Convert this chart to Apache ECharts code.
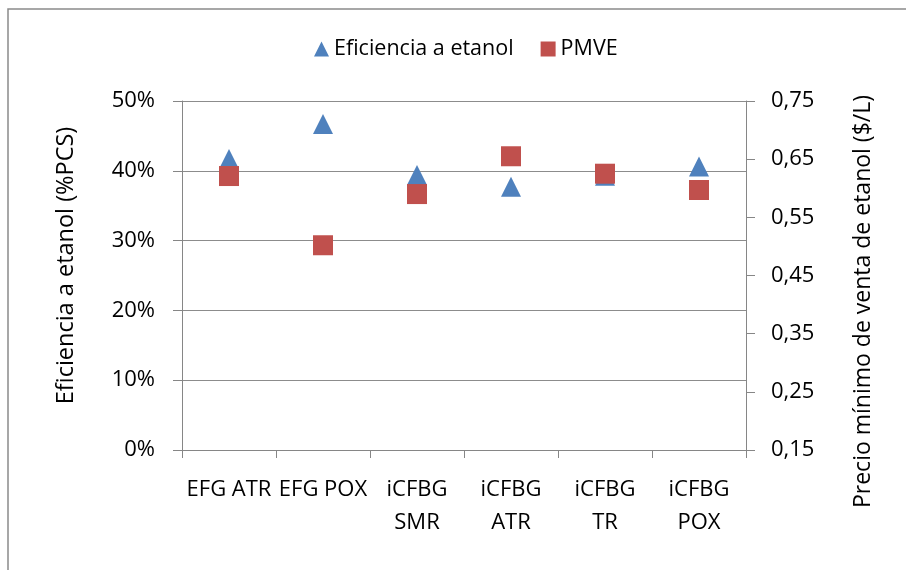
<!DOCTYPE html>
<html>
<head>
<meta charset="utf-8">
<script src="https://cdn.jsdelivr.net/npm/echarts@6/dist/echarts.min.js"></script>
<style>
  html, body { margin: 0; padding: 0; background: #fff; }
  #chart { width: 906px; height: 570px; }
</style>
</head>
<body>
<div id="chart"></div>
<script>
// Process configurations
const categories = ['EFG ATR', 'EFG POX', 'iCFBG SMR', 'iCFBG ATR', 'iCFBG TR', 'iCFBG POX'];
// Ethanol efficiency (fraction of HHV)
const efficiency = [0.417, 0.467, 0.394, 0.377, 0.393, 0.406];
// Minimum ethanol selling price ($/L)
const pmve = [0.621, 0.502, 0.590, 0.655, 0.625, 0.597];

const seriesNames = ['Eficiencia a etanol', 'PMVE'];
const leftAxisName = 'Eficiencia a etanol (%PCS)';
const rightAxisName = 'Precio mínimo de venta de etanol ($/L)';

const FONT = 'Open Sans';
const axisGray = '#868686';

const chart = echarts.init(document.getElementById('chart'), null, { renderer: 'canvas' });

chart.setOption({
  animation: false,
  backgroundColor: '#fff',
  textStyle: { fontFamily: FONT, color: '#000' },
  graphic: [{
    type: 'rect',
    shape: { x: 8, y: 9, width: 960, height: 640 },
    style: { fill: 'none', stroke: '#8a8a8a', lineWidth: 1.5 },
    silent: true,
    z: -1
  }],
  legend: {
    top: 33,
    left: 309,
    itemWidth: 15,
    itemHeight: 15,
    itemGap: 27,
    textStyle: { fontFamily: FONT, fontSize: 21.5, color: '#000' },
    data: [
      { name: seriesNames[0], icon: 'triangle' },
      { name: seriesNames[1], icon: 'rect' }
    ]
  },
  grid: { left: 182, right: 160, top: 101, bottom: 120 },
  xAxis: {
    type: 'category',
    data: categories,
    boundaryGap: true,
    axisLine: { lineStyle: { color: axisGray, width: 1 } },
    axisTick: { show: true, length: 8, inside: false, alignWithLabel: false, lineStyle: { color: axisGray } },
    axisLabel: {
      interval: 0,
      margin: 23,
      fontFamily: FONT,
      fontSize: 22,
      lineHeight: 33,
      color: '#000',
      formatter: v => v.startsWith('iCFBG') ? v.replace(' ', '\n') : v
    }
  },
  yAxis: [{
    type: 'value',
    min: 0,
    max: 0.5,
    interval: 0.1,
    position: 'left',
    name: leftAxisName,
    nameLocation: 'middle',
    nameGap: 104,
    nameTextStyle: { fontFamily: FONT, fontSize: 23.5, color: '#000', padding: [0, 0, 0, 20] },
    axisLine: { show: true, lineStyle: { color: axisGray, width: 1 } },
    axisTick: { show: true, length: 9, lineStyle: { color: axisGray } },
    axisLabel: {
      margin: 27,
      fontFamily: FONT,
      fontSize: 22,
      color: '#000',
      formatter: v => Math.round(v * 100) + '%'
    },
    splitLine: { show: true, lineStyle: { color: '#8c8c8c', width: 1.2 } }
  }, {
    type: 'value',
    min: 0.15,
    max: 0.75,
    interval: 0.1,
    position: 'right',
    name: rightAxisName,
    nameLocation: 'middle',
    nameGap: 106,
    nameRotate: 90,
    nameTextStyle: { fontFamily: FONT, fontSize: 23, color: '#000', padding: [0, 52, 0, 0] },
    axisLine: { show: true, lineStyle: { color: axisGray, width: 1 } },
    axisTick: { show: true, length: 9, lineStyle: { color: axisGray } },
    axisLabel: {
      margin: 25,
      fontFamily: FONT,
      fontSize: 22,
      color: '#000',
      formatter: v => v.toFixed(2).replace('.', ',')
    },
    splitLine: { show: false }
  }],
  series: [{
    name: seriesNames[0],
    type: 'scatter',
    yAxisIndex: 0,
    symbol: 'triangle',
    symbolSize: [20, 20],
    itemStyle: { color: '#4F81BD', opacity: 1 },
    data: efficiency,
    z: 2
  }, {
    name: seriesNames[1],
    type: 'scatter',
    yAxisIndex: 1,
    symbol: 'rect',
    symbolSize: [20, 20],
    itemStyle: { color: '#C0504D', opacity: 1 },
    data: pmve,
    z: 3
  }]
});
</script>
</body>
</html>
